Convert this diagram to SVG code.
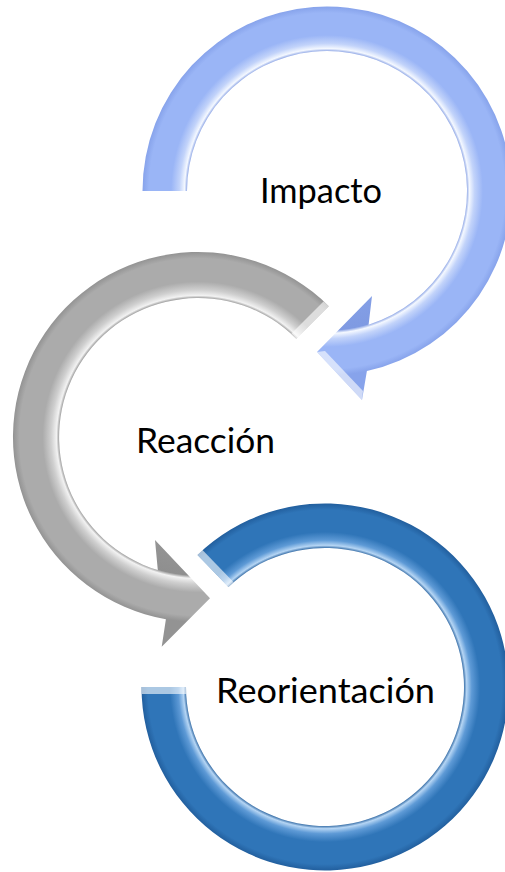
<svg xmlns="http://www.w3.org/2000/svg" width="505" height="872" viewBox="0 0 505 872">
  <defs>
    <radialGradient id="gBlueLight" gradientUnits="userSpaceOnUse" cx="327" cy="191" r="184.5">
      <stop offset="0" stop-color="#9AB5F6"/>
      <stop offset="0.755" stop-color="#7F9AE2"/>
      <stop offset="0.772" stop-color="#F4F8FF"/>
      <stop offset="0.80" stop-color="#C2D3FA"/>
      <stop offset="0.845" stop-color="#9AB5F6"/>
      <stop offset="0.965" stop-color="#9AB5F6"/>
      <stop offset="1" stop-color="#87A3EB"/>
    </radialGradient>
    <radialGradient id="gGray" gradientUnits="userSpaceOnUse" cx="198" cy="437" r="185">
      <stop offset="0" stop-color="#ABABAB"/>
      <stop offset="0.748" stop-color="#8F8F8F"/>
      <stop offset="0.765" stop-color="#F2F2F2"/>
      <stop offset="0.795" stop-color="#CFCFCF"/>
      <stop offset="0.84" stop-color="#ABABAB"/>
      <stop offset="0.965" stop-color="#ABABAB"/>
      <stop offset="1" stop-color="#939393"/>
    </radialGradient>
    <radialGradient id="gBlueDark" gradientUnits="userSpaceOnUse" cx="325" cy="687" r="183.5">
      <stop offset="0" stop-color="#2F75B8"/>
      <stop offset="0.754" stop-color="#1F5A98"/>
      <stop offset="0.772" stop-color="#B5D5F4"/>
      <stop offset="0.80" stop-color="#5E9AD6"/>
      <stop offset="0.845" stop-color="#2F75B8"/>
      <stop offset="0.965" stop-color="#2F75B8"/>
      <stop offset="1" stop-color="#225F9E"/>
    </radialGradient>
  </defs>
  <style>
    .label { font-family: Lato, "Open Sans", "Liberation Sans", sans-serif; font-size: 35px; fill: #000000; }
    .facet { fill: #FFFFFF; opacity: 0.6; }
  </style>

  <g id="connectors"></g>

  <g id="node-impacto">
    <path d="M142.5,191 A184.5,184.5 0 1 1 366.9,371.1 L362,400 L317,352 L372,296 L368.6,324.7 A140,140 0 1 0 187,191 Z" fill="url(#gBlueLight)"/>
    <polygon class="facet" points="317,352 362,400 363,391 325,351"/>
    <text class="label" x="260" y="203" textLength="122" lengthAdjust="spacingAndGlyphs">Impacto</text>
  </g>

  <g id="node-reaccion">
    <path d="M328.8,306.2 A185,185 0 1 0 165.9,619.2 L161.7,646.7 L210,598.3 L155,540 L157.8,570.1 A139,139 0 1 1 296.3,338.7 Z" fill="url(#gGray)"/>
    <polygon class="facet" points="328.8,306.2 296.3,338.7 291.5,333.6 323.5,301.5" opacity="0.45"/>
    <text class="label" x="136" y="453" textLength="139" lengthAdjust="spacingAndGlyphs">Reacción</text>
  </g>

  <g id="node-reorientacion">
    <path d="M141.5,687 A183.5,183.5 0 1 0 197.5,555 L228.4,587 A139,139 0 1 1 186,687 Z" fill="url(#gBlueDark)"/>
    <polygon class="facet" points="197.5,555 228.4,587 233.4,582 202.5,550" opacity="0.8"/>
    <polygon class="facet" points="141.5,687 186,687 186.5,694 142,694" opacity="0.35"/>
    <text class="label" x="216" y="703" textLength="219" lengthAdjust="spacingAndGlyphs">Reorientación</text>
  </g>
</svg>
